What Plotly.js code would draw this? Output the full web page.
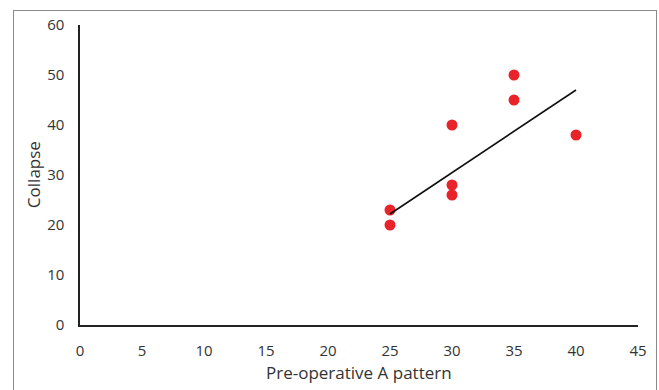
<!DOCTYPE html>
<html>
<head>
<meta charset="utf-8">
<script src="https://cdn.plot.ly/plotly-3.0.1.min.js"></script>
<style>
  html, body { margin: 0; padding: 0; background: #fff; }
  #wrap { position: relative; width: 659px; height: 390px; overflow: hidden; }
  #frame { position: absolute; left: 13px; top: 10px; width: 644px; height: 400px; border: 1px solid #8a8a8a; box-sizing: border-box; pointer-events: none; z-index: 5; }
  #chart { position: absolute; left: 0; top: 0; width: 659px; height: 390px; }
</style>
</head>
<body>
<div id="wrap">
  <div id="chart"></div>
  <div id="frame"></div>
</div>
<script>
// Data
const preopA = [25, 25, 30, 30, 30, 35, 35, 40];
const collapse = [23, 20, 40, 28, 26, 50, 45, 38];
// Trend line as drawn in the picture (start and end)
const trendX = [25, 40];
const trendY = [22.2, 47];
const xTicks = [0, 5, 10, 15, 20, 25, 30, 35, 40, 45];
const yTicks = [0, 10, 20, 30, 40, 50, 60];

const font = 'Open Sans, Liberation Sans, DejaVu Sans, sans-serif';

const traces = [
  {
    x: preopA, y: collapse, type: 'scatter', mode: 'markers',
    marker: { color: '#e8232a', size: 11 },
    hoverinfo: 'x+y', showlegend: false
  },
  {
    x: trendX, y: trendY, type: 'scatter', mode: 'lines',
    line: { color: '#111111', width: 1.6 },
    showlegend: false
  }
];

const layout = {
  width: 659, height: 390,
  margin: { l: 80, r: 21, t: 25, b: 65 },
  paper_bgcolor: '#ffffff', plot_bgcolor: '#ffffff',
  font: { family: font, color: '#333333', size: 15 },
  xaxis: {
    range: [0, 45], tickvals: xTicks, ticktext: xTicks.map(String),
    showgrid: false, zeroline: false, showline: true, linecolor: '#222222', linewidth: 1.6,
    ticks: '', ticklabelstandoff: 11,
    tickfont: { family: font, size: 15, color: '#333333' }
  },
  yaxis: {
    range: [0, 60], tickvals: yTicks, ticktext: yTicks.map(String),
    showgrid: false, zeroline: false, showline: true, linecolor: '#222222', linewidth: 1.6,
    ticks: '', ticklabelstandoff: 11,
    tickfont: { family: font, size: 15, color: '#333333' }
  },
  annotations: [
    {
      text: 'Collapse', textangle: -90, showarrow: false,
      xref: 'paper', yref: 'paper', x: -0.084, y: 0.5,
      xanchor: 'center', yanchor: 'middle',
      font: { family: font, size: 17, color: '#333333' }
    },
    {
      text: 'Pre-operative A pattern', showarrow: false,
      xref: 'paper', yref: 'paper', x: 0.5, y: -0.157,
      xanchor: 'center', yanchor: 'middle',
      font: { family: font, size: 17, color: '#333333' }
    }
  ]
};

Plotly.newPlot('chart', traces, layout, { displayModeBar: false, staticPlot: true });
</script>
</body>
</html>
